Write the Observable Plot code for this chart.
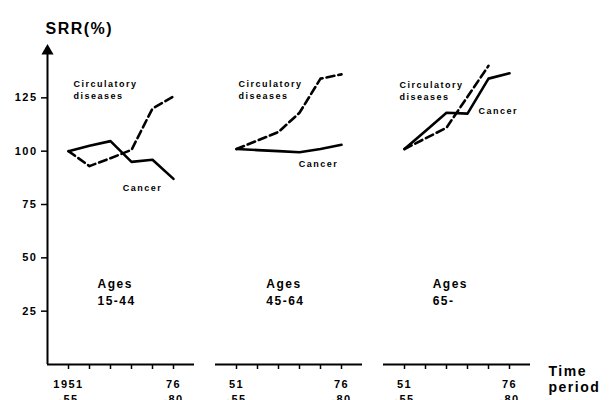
<!DOCTYPE html>
<html>
<head>
<meta charset="utf-8">
<script src="https://cdn.jsdelivr.net/npm/d3@7"></script>
<script src="https://cdn.jsdelivr.net/npm/@observablehq/plot@0.6"></script>
<style>
  html, body { margin: 0; padding: 0; background: #fff; }
</style>
</head>
<body>
<div id="chart"></div>
<script>
// ---- data ----
const ageGroups = ["15-44", "45-64", "65-"];
const periodStarts = [1951, 1956, 1961, 1966, 1971, 1976];
const firstPeriodLabels = ["1951\n-55", "51\n-55", "51\n-55"];
const lastPeriodLabel = "76\n-80";
const cancerSRR = [
  [100, 102.5, 104.7, 95, 96, 87],
  [101, 100.5, 100, 99.5, 101, 103],
  [101, 109.5, 118, 117.6, 134, 136.5]
];
const circulatorySRR = [
  [100, 93, 96.7, 100.6, 120, 125.6],
  [101, 105, 109, 118, 134, 136],
  [101, 106, 111, 125.5, 140]
];
const yTicks = [25, 50, 75, 100, 125];
const ageLabelTexts = ["Ages\n15-44", "Ages\n45-64", "Ages\n65-"];

// annotation anchors (data units)
const circLabelAnchors = [[1952.2, 129], [1951.5, 129], [1949.8, 128.5]];
const cancerLabelAnchors = [[1963.9, 83], [1965.8, 94.2], [1968.6, 119]];
const ageLabelAnchors = [[1957.9, 34.5], [1958.1, 34.5], [1957.7, 34.5]];

// ---- tables ----
const rows = [];
ageGroups.forEach((age, a) => {
  cancerSRR[a].forEach((v, i) => rows.push({age, cause: "Cancer", year: periodStarts[i], srr: v}));
  circulatorySRR[a].forEach((v, i) => rows.push({age, cause: "Circulatory", year: periodStarts[i], srr: v}));
});
const causeLabels = [];
ageGroups.forEach((age, a) => {
  causeLabels.push({age, text: "Circulatory\ndiseases", year: circLabelAnchors[a][0], srr: circLabelAnchors[a][1]});
  causeLabels.push({age, text: "Cancer", year: cancerLabelAnchors[a][0], srr: cancerLabelAnchors[a][1]});
});
const ageLabels = ageGroups.map((age, a) => ({age, text: ageLabelTexts[a], year: ageLabelAnchors[a][0], srr: ageLabelAnchors[a][1]}));
const tickLabels = [];
ageGroups.forEach((age, a) => {
  tickLabels.push({age, year: periodStarts[0], text: firstPeriodLabels[a]});
  tickLabels.push({age, year: periodStarts[periodStarts.length - 1], text: lastPeriodLabel});
});
const yAxisLine = [{age: ageGroups[0], year: 1946, y1: 0, y2: 147}];

const chart = Plot.plot({
  width: 609,
  height: 400,
  marginLeft: 47,
  marginRight: 79,
  marginTop: 44,
  marginBottom: 36,
  style: {
    fontFamily: "'Liberation Sans', Arial, sans-serif",
    fontWeight: "bold",
    letterSpacing: "1.5px",
    color: "#000",
    background: "#fff",
    overflow: "visible"
  },
  fx: {domain: ageGroups, paddingInner: 0.125, paddingOuter: 0, axis: null},
  x: {domain: [1946, 1981]},
  y: {domain: [0, 150]},
  marks: [
    Plot.ruleY([0], {strokeWidth: 2, stroke: "#000"}),
    Plot.axisX({ticks: periodStarts, tickSize: 5, tickFormat: () => "", label: null, strokeWidth: 1.5}),
    Plot.ruleX(yAxisLine, {x: "year", y1: "y1", y2: "y2", fx: "age", strokeWidth: 2, stroke: "#000"}),
    Plot.dot(yAxisLine, {x: "year", y: "y2", fx: "age", symbol: "triangle", r: 4.5, fill: "#000", stroke: "none"}),
    Plot.axisY({ticks: yTicks, tickSize: 6, tickPadding: 4, fontSize: 11, label: null, strokeWidth: 1.5}),
    Plot.line(rows.filter(d => d.cause === "Cancer"), {x: "year", y: "srr", fx: "age", stroke: "#000", strokeWidth: 2.6}),
    Plot.line(rows.filter(d => d.cause === "Circulatory"), {x: "year", y: "srr", fx: "age", stroke: "#000", strokeWidth: 2.6, strokeDasharray: "8,4"}),
    Plot.text(causeLabels, {x: "year", y: "srr", fx: "age", text: "text", textAnchor: "start", fontSize: 9, lineHeight: 1.3, fill: "#000"}),
    Plot.text(ageLabels, {x: "year", y: "srr", fx: "age", text: "text", textAnchor: "start", fontSize: 12, lineHeight: 1.4, fill: "#000"}),
    Plot.text(tickLabels, {x: "year", fx: "age", text: "text", frameAnchor: "bottom", lineAnchor: "top", dy: 13, fontSize: 11, lineHeight: 1.35, fill: "#000"}),
    Plot.text([{age: ageGroups[0], text: "SRR(%)"}], {fx: "age", text: "text", frameAnchor: "top-left", textAnchor: "start", dx: -2, dy: -22, fontSize: 16, fill: "#000"}),
    Plot.text([{age: ageGroups[2], text: "Time\nperiod"}], {fx: "age", text: "text", frameAnchor: "bottom-right", textAnchor: "start", lineAnchor: "top", dx: 18, dy: 0, fontSize: 14, lineHeight: 1.15, fill: "#000"})
  ]
});
document.getElementById("chart").appendChild(chart);
</script>
</body>
</html>
